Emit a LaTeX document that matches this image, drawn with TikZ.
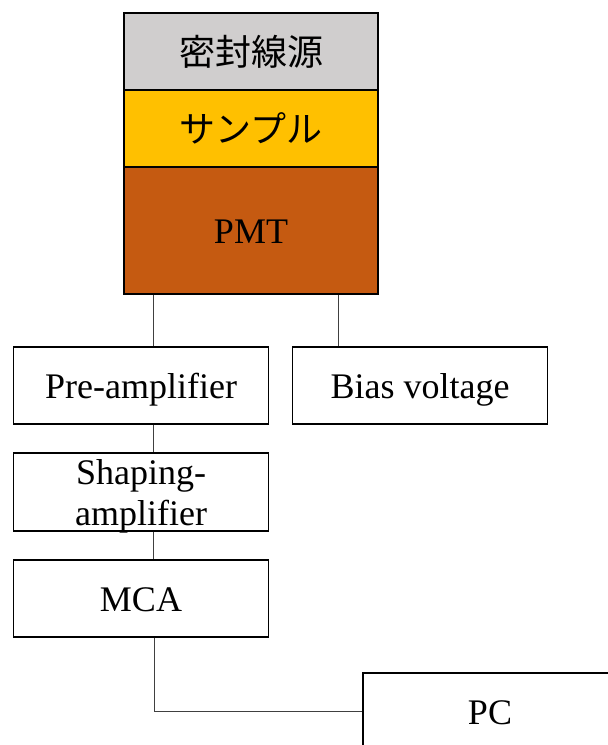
\documentclass[tikz,border=0pt]{standalone}
\usepackage{fontspec}
\setmainfont{Liberation Serif}
\newfontfamily\jpfont{Noto Sans CJK JP}
\definecolor{srcgray}{HTML}{D0CECE}
\definecolor{smpyellow}{HTML}{FFC000}
\definecolor{pmtbrown}{HTML}{C55A11}
\definecolor{wiregray}{HTML}{404040}
\begin{document}
\begin{tikzpicture}[x=1pt,y=-1pt,
  stack/.style={draw=black,line width=2pt,minimum width=254pt,inner sep=0pt,
    font=\fontsize{36}{36}\selectfont},
  unit/.style={draw=black,line width=1.6pt,minimum width=255pt,minimum height=77pt,
    inner sep=0pt,align=center,font=\fontsize{36}{40}\selectfont},
  oneline/.style={text height=26pt,text depth=0pt},
  wire/.style={draw=wiregray,line width=1pt}]
\useasboundingbox (0,0) rectangle (608,745);
\begin{scope}
\clip (0,0) rectangle (608,745);
% detector stack
\node[stack,fill=srcgray,minimum height=77pt] (src) at (251,51.5) {\jpfont 密封線源};
\node[stack,fill=smpyellow,minimum height=77pt] (smp) at (251,128.5) {\jpfont サンプル};
\node[stack,fill=pmtbrown,minimum height=127pt,oneline] (pmt) at (251,230.5) {PMT};
% electronics chain
\node[unit,oneline] (pre) at (141,385.5) {Pre-amplifier};
\node[unit,oneline] (bias) at (420,385.5) {Bias voltage};
\node[unit,minimum height=78pt] (shp) at (141,492) {};
\node[align=center,inner sep=0pt,font=\fontsize{36}{40}\selectfont] (shptext)
  at (141,496) {Shaping-\\[1pt]amplifier};
\node[unit,oneline] (mca) at (141,598.5) {MCA};
\node[unit,oneline,minimum width=254pt] (pc) at (490,711.5) {PC};
% wiring
\draw[wire] ([xshift=12pt]pre.north) -- ([xshift=12pt]pre.north |- pmt.south);
\draw[wire] ([xshift=-82pt]bias.north) -- ([xshift=-82pt]bias.north |- pmt.south);
\draw[wire] ([xshift=12pt]pre.south) -- ([xshift=12pt]shp.north);
\draw[wire] ([xshift=12pt]shp.south) -- ([xshift=12pt]mca.north);
\draw[wire] ([xshift=13pt]mca.south) |- (pc.west);
\end{scope}
\end{tikzpicture}
\end{document}
